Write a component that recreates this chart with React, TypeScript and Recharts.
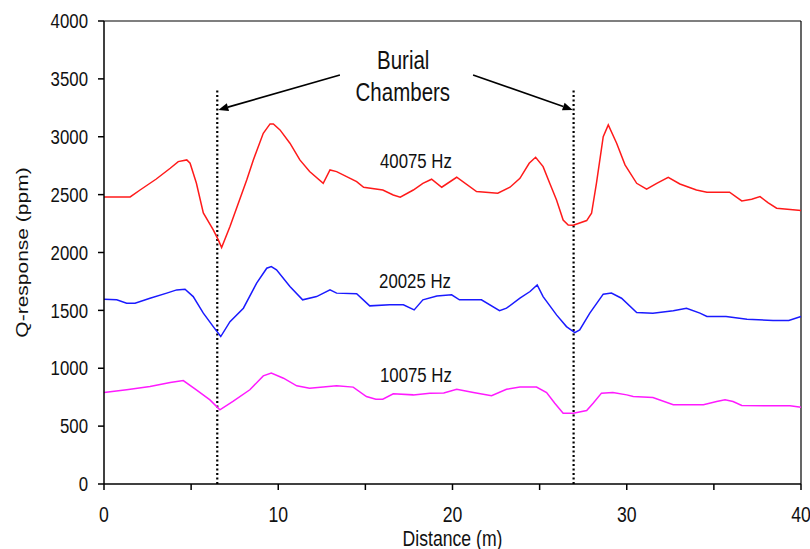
import {
  Line,
  LineChart,
  ReferenceDot,
  ReferenceLine,
  XAxis,
  YAxis,
} from "recharts";

const FONT = "'Liberation Sans', Arial, sans-serif";
const TEXT = "#111";
const SQUEEZE = 0.82; // the source picture is squeezed sideways

// Distance (m) / Q-response (ppm)
const redX = [0, 1.5, 2.07, 3.0, 3.8, 4.26, 4.75, 4.94, 5.3, 5.7, 6.27, 6.56, 6.75, 7.23, 8.19, 8.57, 9.14, 9.53, 9.72, 10.1, 10.67, 11.24, 11.8, 12.58, 12.97, 13.35, 14.5, 14.9, 16.0, 16.6, 17.0, 17.75, 18.3, 18.8, 19.38, 20.24, 21.38, 22.6, 23.3, 23.87, 24.4, 24.77, 25.2, 25.58, 25.97, 26.35, 26.64, 26.93, 27.7, 27.98, 28.26, 28.65, 28.94, 29.42, 29.9, 30.57, 31.14, 31.72, 32.38, 33.05, 34.0, 34.6, 35.9, 36.6, 37.17, 37.65, 38.1, 38.6, 40];
const redY = [2480, 2480, 2540, 2635, 2728, 2785, 2800, 2771, 2600, 2342, 2195, 2109, 2042, 2224, 2627, 2800, 3030, 3111, 3111, 3059, 2944, 2800, 2699, 2598, 2713, 2699, 2612, 2564, 2540, 2497, 2478, 2540, 2598, 2633, 2564, 2650, 2526, 2512, 2564, 2641, 2771, 2823, 2742, 2598, 2454, 2281, 2238, 2236, 2276, 2339, 2598, 3001, 3102, 2944, 2757, 2598, 2547, 2598, 2650, 2592, 2540, 2521, 2521, 2446, 2460, 2483, 2431, 2383, 2362];

const blueX = [0, 0.73, 1.3, 1.78, 2.64, 3.6, 4.17, 4.65, 5.12, 5.7, 6.27, 6.7, 7.23, 8.0, 8.76, 9.34, 9.6, 9.9, 10.67, 11.4, 12.2, 12.97, 13.35, 14.5, 15.25, 16.4, 17.18, 17.8, 18.3, 19.1, 19.95, 20.4, 21.66, 22.7, 23.1, 23.87, 24.45, 24.86, 25.2, 25.97, 26.54, 27.02, 27.3, 27.88, 28.65, 29.12, 29.7, 30.57, 31.5, 32.67, 33.43, 34.2, 34.6, 35.7, 36.9, 38.4, 39.3, 40];
const blueY = [1597, 1591, 1562, 1562, 1605, 1649, 1677, 1683, 1619, 1476, 1360, 1274, 1403, 1519, 1735, 1864, 1878, 1850, 1706, 1591, 1619, 1677, 1649, 1643, 1539, 1548, 1548, 1504, 1591, 1625, 1634, 1591, 1591, 1498, 1519, 1605, 1663, 1720, 1619, 1461, 1360, 1308, 1332, 1476, 1640, 1649, 1605, 1481, 1476, 1496, 1519, 1476, 1447, 1447, 1424, 1412, 1412, 1447];

const pinkX = [0, 1.3, 2.64, 3.8, 4.55, 5.3, 6.08, 6.65, 7.4, 8.37, 9.14, 9.6, 10.3, 11.06, 11.8, 13.35, 14.3, 15.06, 15.6, 16.0, 16.6, 17.75, 18.7, 19.5, 20.24, 21.2, 22.24, 23.1, 23.87, 24.82, 25.4, 25.87, 26.35, 26.93, 27.7, 28.07, 28.55, 29.2, 30.0, 30.37, 31.5, 32.67, 34.4, 35.16, 35.64, 36.1, 36.6, 39.37, 40];
const pinkY = [790, 814, 842, 877, 894, 814, 727, 641, 713, 814, 934, 958, 914, 848, 828, 848, 837, 756, 733, 733, 779, 770, 785, 787, 819, 790, 762, 819, 837, 837, 790, 698, 612, 612, 635, 698, 785, 790, 770, 756, 747, 684, 684, 713, 727, 713, 678, 675, 664];

const xTicks = [0, 5, 10, 15, 20, 25, 30, 35, 40];
const yTicks = [0, 500, 1000, 1500, 2000, 2500, 3000, 3500, 4000];

// burial chamber markers and annotation
const chamberX = [6.5, 26.95];
const chamberTop = 3420;
const arrowStart = [
  { x: 13.54, y: 3534 },
  { x: 21.18, y: 3534 },
];
const arrowEnd = [
  { x: 6.56, y: 3232 },
  { x: 26.9, y: 3232 },
];
const seriesLabels = [
  { text: "40075 Hz", x: 17.9, y: 2790 },
  { text: "20025 Hz", x: 17.85, y: 1759 },
  { text: "10075 Hz", x: 17.9, y: 943 },
];
const titleLines = [
  { text: "Burial", x: 17.17, y: 3663 },
  { text: "Chambers", x: 17.15, y: 3387 },
];

const toRows = (xs: number[], ys: number[]) => xs.map((x, i) => ({ x, v: ys[i] }));

const NarrowText = ({ x, y, text, size, anchor = "middle", dy = "0.35em" }: any) => (
  <text
    transform={`translate(${x},${y}) scale(${SQUEEZE},1)`}
    textAnchor={anchor}
    dy={dy}
    fontSize={size}
    fontFamily={FONT}
    fill={TEXT}
  >
    {text}
  </text>
);

const XTick = (p: any) => {
  const v = p.payload.value;
  if (v % 10 !== 0) return <g />;
  return <NarrowText x={p.x} y={p.y} text={`${v}`} size={21.5} dy="0.71em" />;
};

const YTick = (p: any) => (
  <NarrowText x={p.x} y={p.y} text={`${p.payload.value}`} size={20.5} anchor="end" />
);

const xLabel = (p: any) => {
  const vb = p.viewBox;
  return <NarrowText x={vb.x + vb.width / 2} y={546} text="Distance (m)" size={21.5} dy="0" />;
};

const yLabel = (p: any) => {
  const vb = p.viewBox;
  const cy = vb.y + vb.height / 2;
  return (
    <text
      transform={`translate(22,${cy}) scale(${SQUEEZE},1) rotate(-90)`}
      textAnchor="middle"
      dy="0.35em"
      fontSize={21}
      fontFamily={FONT}
      fill={TEXT}
    >
      Q-response (ppm)
    </text>
  );
};

const ArrowShape = (p: any) => {
  const { x1, y1, x2, y2 } = p;
  const ang = Math.atan2(y2 - y1, x2 - x1);
  const len = 10;
  const w = 4;
  const bx = x2 - len * Math.cos(ang);
  const by = y2 - len * Math.sin(ang);
  const px = -Math.sin(ang) * w;
  const py = Math.cos(ang) * w;
  return (
    <g>
      <line x1={x1} y1={y1} x2={bx} y2={by} stroke="#000" strokeWidth={1.6} />
      <polygon
        points={`${x2},${y2} ${bx + px},${by + py} ${bx - px},${by - py}`}
        fill="#000"
      />
    </g>
  );
};

const labelShape = (text: string, size: number) => (p: any) =>
  <NarrowText x={p.cx} y={p.cy} text={text} size={size} />;

export default function App() {
  return (
    <div style={{ position: "absolute", left: 0, top: 0, background: "#fff" }}>
      <LineChart
        width={810}
        height={549}
        margin={{ top: 21, right: 9, bottom: 0, left: 0 }}
      >
        <XAxis
          type="number"
          dataKey="x"
          domain={[0, 40]}
          ticks={xTicks}
          allowDuplicatedCategory={false}
          height={65}
          tickSize={6}
          tickMargin={17}
          stroke="#000"
          strokeWidth={1.5}
          tick={XTick}
          label={xLabel}
        />
        <YAxis
          type="number"
          domain={[0, 4000]}
          ticks={yTicks}
          width={104}
          tickSize={6}
          tickMargin={10}
          stroke="#000"
          strokeWidth={1.5}
          tick={YTick}
          label={yLabel}
        />
        <ReferenceLine y={4000} stroke="#000" strokeWidth={1.2} />
        <ReferenceLine x={40} stroke="#000" strokeWidth={1.2} />

        {chamberX.map((cx) => (
          <ReferenceLine
            key={cx}
            segment={[
              { x: cx, y: 0 },
              { x: cx, y: chamberTop },
            ]}
            stroke="#000"
            strokeWidth={2.2}
            strokeDasharray="2 2.5"
          />
        ))}
        {arrowStart.map((s, i) => (
          <ReferenceLine
            key={`arrow-${i}`}
            segment={[s, arrowEnd[i]]}
            shape={ArrowShape}
          />
        ))}

        <Line
          data={toRows(redX, redY)}
          dataKey="v"
          type="linear"
          stroke="#ff1a1a"
          strokeWidth={1.5}
          dot={false}
          isAnimationActive={false}
        />
        <Line
          data={toRows(blueX, blueY)}
          dataKey="v"
          type="linear"
          stroke="#1a1aff"
          strokeWidth={1.5}
          dot={false}
          isAnimationActive={false}
        />
        <Line
          data={toRows(pinkX, pinkY)}
          dataKey="v"
          type="linear"
          stroke="#ff1aff"
          strokeWidth={1.5}
          dot={false}
          isAnimationActive={false}
        />

        {seriesLabels.map((l) => (
          <ReferenceDot
            key={l.text}
            x={l.x}
            y={l.y}
            r={0}
            shape={labelShape(l.text, 20.5)}
          />
        ))}
        {titleLines.map((l) => (
          <ReferenceDot
            key={l.text}
            x={l.x}
            y={l.y}
            r={0}
            shape={labelShape(l.text, 25)}
          />
        ))}
      </LineChart>
    </div>
  );
}
